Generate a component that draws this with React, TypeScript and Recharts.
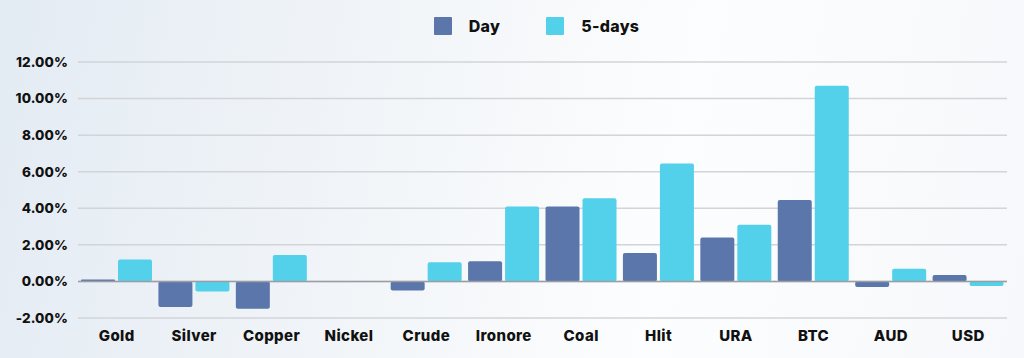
import { BarChart, Bar, XAxis, YAxis, CartesianGrid, Legend, ReferenceLine } from "recharts";

const categories = ["Gold", "Silver", "Copper", "Nickel", "Crude", "Ironore", "Coal", "Hlit", "URA", "BTC", "AUD", "USD"];
const dayValues = [0.1, -1.4, -1.5, 0, -0.5, 1.1, 4.1, 1.55, 2.4, 4.45, -0.3, 0.35];
const fiveDayValues = [1.2, -0.55, 1.45, 0, 1.05, 4.1, 4.55, 6.45, 3.1, 10.7, 0.7, -0.25];
const yTicks = [-2, 0, 2, 4, 6, 8, 10, 12];

const COLORS = {
  day: "#5a76ab",
  fiveDays: "#53d0ea",
};

const FONT = "Inter, 'Open Sans', sans-serif";

const data = categories.map((name, i) => ({
  name,
  day: dayValues[i],
  fiveDays: fiveDayValues[i],
}));

function LegendContent() {
  const items = [
    { label: "Day", color: COLORS.day },
    { label: "5-days", color: COLORS.fiveDays },
  ];
  return (
    <div
      style={{
        display: "flex",
        justifyContent: "center",
        paddingLeft: 49,
        gap: 46,
        fontFamily: FONT,
        fontWeight: 800,
        fontSize: 16,
        letterSpacing: 0.3,
        color: "#111",
      }}
    >
      {items.map((it) => (
        <div key={it.label} style={{ display: "flex", alignItems: "center", gap: 17 }}>
          <span style={{ width: 18, height: 18, background: it.color, display: "inline-block", borderRadius: 1 }} />
          <span>{it.label}</span>
        </div>
      ))}
    </div>
  );
}

export default function App() {
  return (
    <div
      style={{
        position: "absolute",
        left: 0,
        top: 0,
        width: 1024,
        height: 358,
        background: "linear-gradient(100deg, #e3ebf3 0%, #f3f6f9 40%, #fcfdfe 65%, #f6f8fb 100%)",
      }}
    >
      <BarChart
        width={1024}
        height={358}
        data={data}
        margin={{ top: 16, right: 17, left: 0, bottom: 10 }}
        barSize={34}
        barGap={3}
      >
        <Legend verticalAlign="top" height={46} wrapperStyle={{ left: 0, width: 1024 }} content={() => <LegendContent />} />
        <CartesianGrid vertical={false} stroke="#d2d4d8" strokeWidth={1.5} />
        <XAxis
          dataKey="name"
          axisLine={false}
          tickLine={false}
          tickMargin={6}
          interval={0}
          tick={{ fontFamily: FONT, fontWeight: 800, fontSize: 15, letterSpacing: 0.4, fill: "#111" }}
        />
        <YAxis
          width={78}
          domain={[-2, 12]}
          ticks={yTicks}
          axisLine={false}
          tickLine={false}
          tickMargin={4}
          tickFormatter={(v) => `${Number(v).toFixed(2)}%`}
          tick={{ fontFamily: FONT, fontWeight: 800, fontSize: 13.5, letterSpacing: 0.1, fill: "#111" }}
        />
        <ReferenceLine y={0} stroke="#9a9ea4" strokeWidth={1.5} />
        <Bar dataKey="day" name="Day" fill={COLORS.day} radius={2} isAnimationActive={false} />
        <Bar dataKey="fiveDays" name="5-days" fill={COLORS.fiveDays} radius={2} isAnimationActive={false} />
      </BarChart>
    </div>
  );
}
